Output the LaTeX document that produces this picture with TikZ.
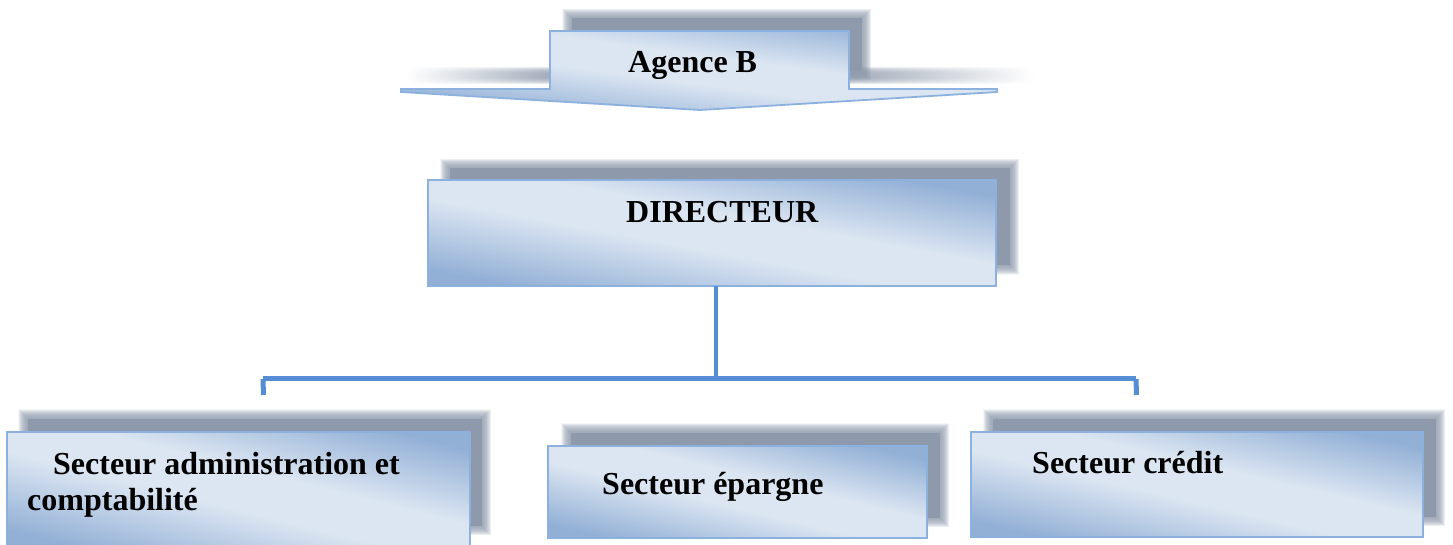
\documentclass[tikz,border=0pt]{standalone}
\usepackage{fontspec}
\setmainfont{Liberation Serif}
\usetikzlibrary{calc}
\definecolor{glight}{RGB}{220,230,242}
\definecolor{gdark}{RGB}{146,176,214}
\definecolor{bordc}{RGB}{141,177,222}
\definecolor{linec}{RGB}{85,142,213}
\definecolor{shadc}{RGB}{142,154,171}
\pgfdeclareverticalshading{boxgrad}{100bp}{color(0bp)=(gdark); color(20bp)=(gdark); color(44bp)=(glight); color(57bp)=(glight); color(80bp)=(gdark); color(100bp)=(gdark)}
\newcommand{\softshadow}[4]{%
  \foreach \r in {5,4.5,...,-4}{\fill[shadc,opacity=0.09] (#1-\r,#2-\r) rectangle (#3+\r,#4+\r);}
  \fill[shadc] (#1+4.5,#2+4.5) rectangle (#3-4.5,#4-4.5);}
\newcommand{\gradfill}[4]{%
  \begin{scope}[transform canvas={shift={(#1,#2)}, xscale=#3/100, yscale=#4/100}]
    \shade[shading=boxgrad, shading angle=-45] (-50,-50) rectangle (50,50);
  \end{scope}}
\begin{document}
\begin{tikzpicture}[x=1pt,y=-1pt,
  box/.style={draw=bordc, line width=1.8pt, inner sep=0pt, outer sep=0pt},
  lbl/.style={font=\bfseries\fontsize{32}{38}\selectfont, inner sep=0pt, anchor=base west},
  conn/.style={draw=linec, line width=5pt}]
\useasboundingbox (0,0) rectangle (1453,545);
% ---- Agence B arrow
\foreach \r in {0,1,...,6}{
  \shade[left color=white, middle color=shadc, right color=shadc, opacity=0.25] (406,74-\r) rectangle (560,78+\r);
  \shade[right color=white, middle color=shadc, left color=shadc, opacity=0.25] (840,74-\r) rectangle (1034,78+\r);}
\softshadow{567}{14}{866}{76}
\begin{scope}
  \clip (550,31) -- (849,31) -- (849,89) -- (997,89) -- (997,92) -- (700,110) -- (401,92) -- (401,89) -- (550,89) -- cycle;
  \gradfill{699}{70.5}{596}{79}
\end{scope}
\path[box] (550,31) -- (849,31) -- (849,89) -- (997,89) -- (997,92) -- (700,110) -- (401,92) -- (401,89) -- (550,89) -- cycle;
\node[lbl] (agence) at (628,73) {Agence B};
% ---- Directeur
\softshadow{445}{164}{1014}{270}
\gradfill{712}{233}{568}{106}
\node[box, minimum width=568pt, minimum height=106pt] (dir) at (712,233) {};
\node[lbl] (dirlbl) at (626,223) {DIRECTEUR};
% ---- connectors
\coordinate (bus) at (716,378);
\coordinate (busL) at (263,378);
\coordinate (busR) at (1136,378);
\coordinate (tickL) at (263.5,395);
\coordinate (tickR) at (1136.5,395);
\draw[conn, line width=4.5pt] (dir.south -| bus) -- (bus);
\draw[conn] (busL) -- (busR);
\draw[conn] (busL |- 0,379) -- (tickL);
\draw[conn] (busR |- 0,379) -- (tickR);
% ---- bottom boxes
\softshadow{23}{414}{486}{530}
\gradfill{238.5}{490}{463}{116}
\node[box, minimum width=463pt, minimum height=116pt] (b1) at (238.5,490) {};
\node[lbl] (b1a) at (53,474) {Secteur administration et};
\node[lbl] (b1b) at (27,510) {comptabilité};
\softshadow{566}{428}{944}{522}
\gradfill{737.5}{492}{379}{92}
\node[box, minimum width=379pt, minimum height=92pt] (b2) at (737.5,492) {};
\node[lbl] (b2a) at (602,494) {Secteur épargne};
\softshadow{988}{414}{1440}{521}
\gradfill{1197}{484.5}{452}{105}
\node[box, minimum width=452pt, minimum height=105pt] (b3) at (1197,484.5) {};
\node[lbl] (b3a) at (1032,473) {Secteur crédit};
\end{tikzpicture}
\end{document}
